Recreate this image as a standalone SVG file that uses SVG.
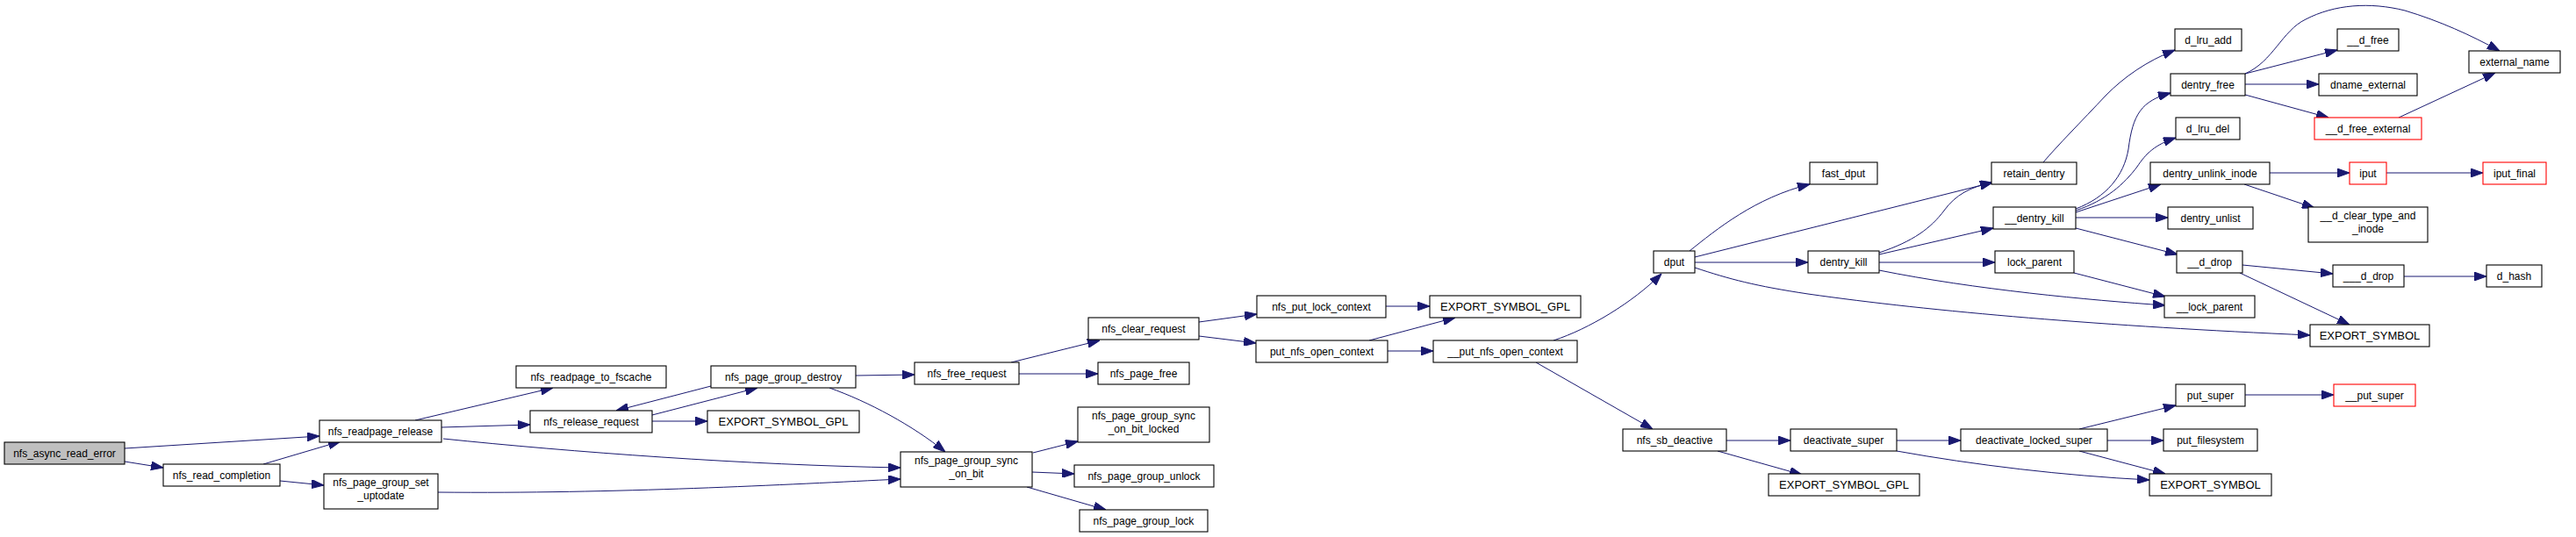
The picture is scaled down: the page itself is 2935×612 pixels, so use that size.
<svg xmlns="http://www.w3.org/2000/svg" width="2935" height="612" viewBox="0 0 2935 612">
<style>
.n rect{fill:#fff;stroke:#000;stroke-width:1.1}
.n.root rect{fill:#bfbfbf}
.n.red rect{stroke:#ff0000}
.n text{font-family:"Liberation Sans",Arial,sans-serif;font-size:12px;text-anchor:middle;fill:#000}
.n text.u{font-size:13px}
.e path{fill:none;stroke:#191970;stroke-width:1;marker-end:url(#ah)}
</style>
<defs>
<marker id="ah" markerUnits="userSpaceOnUse" viewBox="0 0 14 10" refX="14" refY="5" markerWidth="14" markerHeight="10" orient="auto">
<path d="M0,0 L14,5 L0,10 z" fill="#191970" stroke="#191970"/>
</marker>
</defs>
<rect width="2935" height="612" fill="#fff"/>
<g id="connectors" class="e">
<path d="M142,511 L364,497"/>
<path d="M142,526 L186,533"/>
<path d="M300,529 L388,503"/>
<path d="M319,548 L369,553"/>
<path d="M473,479 L630,442"/>
<path d="M503,487 L604,484"/>
<path d="M505,500 C650,515 850,530 1026,533"/>
<path d="M499,561 C700,563 900,552 1026,546"/>
<path d="M743,473 L863,442"/>
<path d="M810,440 L702,468"/>
<path d="M743,480 L806,480"/>
<path d="M975,428 L1042,427"/>
<path d="M945,442 C990,458 1040,485 1077,515"/>
<path d="M1152,413 L1253,388"/>
<path d="M1161,426 L1251,426"/>
<path d="M1177,516 L1228,503"/>
<path d="M1176,538 L1224,540"/>
<path d="M1170,555 L1260,581"/>
<path d="M1366,367 L1432,358"/>
<path d="M1366,383 L1431,391"/>
<path d="M1579,349 L1629,349"/>
<path d="M1560,388 L1658,362"/>
<path d="M1581,400 L1633,400"/>
<path d="M1770,388 C1810,375 1860,345 1893,312"/>
<path d="M1750,413 L1883,489"/>
<path d="M1967,502 L2040,502"/>
<path d="M1957,514 L2053,541"/>
<path d="M1925,286 C1955,262 2000,225 2062,210"/>
<path d="M1931,293 L2270,208"/>
<path d="M1931,299 L2060,299"/>
<path d="M1931,305 C1970,318 2000,326 2060,335 C2200,355 2400,372 2632,382"/>
<path d="M2141,288 C2180,275 2200,260 2215,240 C2228,222 2245,213 2270,208"/>
<path d="M2141,290 L2271,260"/>
<path d="M2141,299 L2273,299"/>
<path d="M2141,308 C2250,330 2380,342 2467,348"/>
<path d="M2363,311 L2467,338"/>
<path d="M2328,185 C2345,165 2370,140 2400,108 C2420,88 2445,70 2478,57"/>
<path d="M2365,238 C2400,225 2420,200 2425,170 C2430,130 2440,115 2473,106"/>
<path d="M2365,240 C2400,228 2420,210 2435,190 C2445,175 2455,165 2479,157"/>
<path d="M2365,242 L2462,210"/>
<path d="M2365,248 L2470,248"/>
<path d="M2365,260 L2481,290"/>
<path d="M2558,84 C2590,70 2600,35 2627,22 C2660,5 2700,2 2740,12 C2780,24 2815,40 2848,58"/>
<path d="M2558,84 L2663,57"/>
<path d="M2558,96 L2642,96"/>
<path d="M2558,108 L2653,134"/>
<path d="M2733,134 L2843,83"/>
<path d="M2586,197 L2677,197"/>
<path d="M2557,210 L2637,237"/>
<path d="M2719,197 L2829,197"/>
<path d="M2555,302 L2658,312"/>
<path d="M2552,311 L2677,370"/>
<path d="M2739,315 L2833,315"/>
<path d="M2161,502 L2234,502"/>
<path d="M2161,514 C2250,530 2350,542 2449,547"/>
<path d="M2369,489 L2479,462"/>
<path d="M2401,502 L2465,502"/>
<path d="M2369,514 L2467,540"/>
<path d="M2558,450 L2659,450"/>
</g>
<g id="nfs_async_read_error" class="n root"><rect x="5" y="504" width="137" height="25"/><text x="73.5" y="521">nfs_async_read_error</text></g>
<g id="nfs_read_completion" class="n"><rect x="186" y="529" width="133" height="25"/><text x="252.5" y="546">nfs_read_completion</text></g>
<g id="nfs_readpage_release" class="n"><rect x="364" y="479" width="139" height="25"/><text x="433.5" y="496">nfs_readpage_release</text></g>
<g id="nfs_page_group_set_uptodate" class="n"><rect x="369" y="540" width="130" height="40"/><text x="434" y="554">nfs_page_group_set</text><text x="434" y="569">_uptodate</text></g>
<g id="nfs_readpage_to_fscache" class="n"><rect x="588" y="417" width="171" height="25"/><text x="673.5" y="434">nfs_readpage_to_fscache</text></g>
<g id="nfs_release_request" class="n"><rect x="604" y="468" width="139" height="25"/><text x="673.5" y="485">nfs_release_request</text></g>
<g id="nfs_page_group_destroy" class="n"><rect x="810" y="417" width="165" height="25"/><text x="892.5" y="434">nfs_page_group_destroy</text></g>
<g id="EXPORT_SYMBOL_GPL_1" class="n"><rect x="806" y="468" width="173" height="25"/><text class="u" x="892.5" y="485">EXPORT_SYMBOL_GPL</text></g>
<g id="nfs_free_request" class="n"><rect x="1042" y="413" width="119" height="25"/><text x="1101.5" y="430">nfs_free_request</text></g>
<g id="nfs_clear_request" class="n"><rect x="1240" y="362" width="126" height="25"/><text x="1303" y="379">nfs_clear_request</text></g>
<g id="nfs_page_free" class="n"><rect x="1251" y="413" width="104" height="25"/><text x="1303" y="430">nfs_page_free</text></g>
<g id="nfs_page_group_sync_on_bit" class="n"><rect x="1026" y="515" width="150" height="40"/><text x="1101" y="529">nfs_page_group_sync</text><text x="1101" y="544">_on_bit</text></g>
<g id="nfs_page_group_sync_on_bit_locked" class="n"><rect x="1228" y="464" width="150" height="40"/><text x="1303" y="478">nfs_page_group_sync</text><text x="1303" y="493">_on_bit_locked</text></g>
<g id="nfs_page_group_unlock" class="n"><rect x="1224" y="530" width="159" height="25"/><text x="1303.5" y="547">nfs_page_group_unlock</text></g>
<g id="nfs_page_group_lock" class="n"><rect x="1230" y="581" width="146" height="25"/><text x="1303" y="598">nfs_page_group_lock</text></g>
<g id="nfs_put_lock_context" class="n"><rect x="1432" y="337" width="147" height="25"/><text x="1505.5" y="354">nfs_put_lock_context</text></g>
<g id="EXPORT_SYMBOL_GPL_2" class="n"><rect x="1629" y="337" width="172" height="25"/><text class="u" x="1715" y="354">EXPORT_SYMBOL_GPL</text></g>
<g id="put_nfs_open_context" class="n"><rect x="1431" y="388" width="150" height="25"/><text x="1506" y="405">put_nfs_open_context</text></g>
<g id="__put_nfs_open_context" class="n"><rect x="1633" y="388" width="164" height="25"/><text x="1715" y="405">__put_nfs_open_context</text></g>
<g id="dput" class="n"><rect x="1884" y="286" width="47" height="25"/><text x="1907.5" y="303">dput</text></g>
<g id="fast_dput" class="n"><rect x="2062" y="185" width="77" height="25"/><text x="2100.5" y="202">fast_dput</text></g>
<g id="dentry_kill" class="n"><rect x="2060" y="286" width="81" height="25"/><text x="2100.5" y="303">dentry_kill</text></g>
<g id="nfs_sb_deactive" class="n"><rect x="1849" y="489" width="118" height="25"/><text x="1908" y="506">nfs_sb_deactive</text></g>
<g id="deactivate_super" class="n"><rect x="2040" y="489" width="121" height="25"/><text x="2100.5" y="506">deactivate_super</text></g>
<g id="EXPORT_SYMBOL_GPL_3" class="n"><rect x="2015" y="540" width="172" height="25"/><text class="u" x="2101" y="557">EXPORT_SYMBOL_GPL</text></g>
<g id="retain_dentry" class="n"><rect x="2269" y="185" width="97" height="25"/><text x="2317.5" y="202">retain_dentry</text></g>
<g id="__dentry_kill" class="n"><rect x="2271" y="236" width="94" height="25"/><text x="2318" y="253">__dentry_kill</text></g>
<g id="lock_parent" class="n"><rect x="2273" y="286" width="90" height="25"/><text x="2318" y="303">lock_parent</text></g>
<g id="__lock_parent" class="n"><rect x="2466" y="337" width="103" height="25"/><text x="2517.5" y="354">__lock_parent</text></g>
<g id="EXPORT_SYMBOL_1" class="n"><rect x="2632" y="370" width="136" height="25"/><text class="u" x="2700" y="387">EXPORT_SYMBOL</text></g>
<g id="deactivate_locked_super" class="n"><rect x="2234" y="489" width="167" height="25"/><text x="2317.5" y="506">deactivate_locked_super</text></g>
<g id="put_super" class="n"><rect x="2479" y="438" width="79" height="25"/><text x="2518.5" y="455">put_super</text></g>
<g id="put_filesystem" class="n"><rect x="2465" y="489" width="107" height="25"/><text x="2518.5" y="506">put_filesystem</text></g>
<g id="EXPORT_SYMBOL_2" class="n"><rect x="2449" y="540" width="139" height="25"/><text class="u" x="2518.5" y="557">EXPORT_SYMBOL</text></g>
<g id="__put_super" class="n red"><rect x="2659" y="438" width="93" height="25"/><text x="2705.5" y="455">__put_super</text></g>
<g id="d_lru_add" class="n"><rect x="2478" y="33" width="76" height="25"/><text x="2516" y="50">d_lru_add</text></g>
<g id="dentry_free" class="n"><rect x="2473" y="84" width="85" height="25"/><text x="2515.5" y="101">dentry_free</text></g>
<g id="d_lru_del" class="n"><rect x="2479" y="134" width="73" height="25"/><text x="2515.5" y="151">d_lru_del</text></g>
<g id="dentry_unlink_inode" class="n"><rect x="2450" y="185" width="136" height="25"/><text x="2518" y="202">dentry_unlink_inode</text></g>
<g id="dentry_unlist" class="n"><rect x="2470" y="236" width="97" height="25"/><text x="2518.5" y="253">dentry_unlist</text></g>
<g id="__d_drop" class="n"><rect x="2480" y="286" width="75" height="25"/><text x="2517.5" y="303">__d_drop</text></g>
<g id="__d_free" class="n"><rect x="2663" y="33" width="70" height="25"/><text x="2698" y="50">__d_free</text></g>
<g id="dname_external" class="n"><rect x="2642" y="84" width="112" height="25"/><text x="2698" y="101">dname_external</text></g>
<g id="__d_free_external" class="n red"><rect x="2637" y="134" width="122" height="25"/><text x="2698" y="151">__d_free_external</text></g>
<g id="external_name" class="n"><rect x="2813" y="58" width="104" height="25"/><text x="2865" y="75">external_name</text></g>
<g id="iput" class="n red"><rect x="2677" y="185" width="42" height="25"/><text x="2698" y="202">iput</text></g>
<g id="iput_final" class="n red"><rect x="2829" y="185" width="72" height="25"/><text x="2865" y="202">iput_final</text></g>
<g id="__d_clear_type_and_inode" class="n"><rect x="2630" y="236" width="136" height="40"/><text x="2698" y="250">__d_clear_type_and</text><text x="2698" y="265">_inode</text></g>
<g id="___d_drop" class="n"><rect x="2658" y="302" width="81" height="25"/><text x="2698.5" y="319">___d_drop</text></g>
<g id="d_hash" class="n"><rect x="2833" y="302" width="63" height="25"/><text x="2864.5" y="319">d_hash</text></g>
</svg>
